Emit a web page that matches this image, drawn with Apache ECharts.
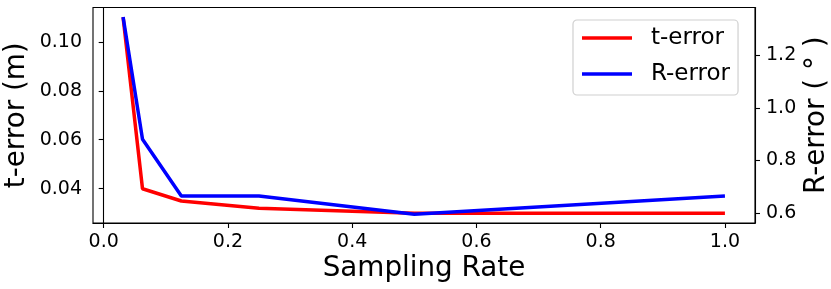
<!DOCTYPE html>
<html>
<head>
<meta charset="utf-8">
<script src="https://cdn.jsdelivr.net/npm/echarts@6/dist/echarts.min.js"></script>
<style>
html,body{margin:0;padding:0;background:#fff;}
#chart{width:831px;height:289px;}
</style>
</head>
<body>
<div id="chart"></div>
<script>
const samplingRates = [0.03125, 0.0625, 0.125, 0.25, 0.5, 1.0];
const tError = [0.110, 0.040, 0.035, 0.032, 0.030, 0.030];
const rError = [1.345, 0.88, 0.665, 0.665, 0.595, 0.665];
const xTicks = [0.0, 0.2, 0.4, 0.6, 0.8, 1.0];
const tTicks = [0.04, 0.06, 0.08, 0.10];
const rTicks = [0.6, 0.8, 1.0, 1.2];

const FONT = 'DejaVu Sans';
const chart = echarts.init(document.getElementById('chart'), null, {renderer: 'canvas'});

const axisLineStyle = {show: true, lineStyle: {color: '#000', width: 1.1}};
const tickStyle = {show: true, inside: false, length: 5, lineStyle: {color: '#000', width: 1.1}};
const labelStyle = {color: '#000', fontFamily: FONT, fontSize: 19};

chart.setOption({
  animation: false,
  backgroundColor: '#fff',
  grid: {left: 93, right: 76, top: 7.5, bottom: 66, show: true, borderColor: '#000', borderWidth: 1.1,
         containLabel: false, outerBoundsMode: 'none'},
  legend: {
    orient: 'vertical',
    left: 573, top: 20,
    padding: [5, 8, 8, 9],
    itemGap: 10,
    itemWidth: 50, itemHeight: 3.5,
    icon: 'rect',
    backgroundColor: 'rgba(255,255,255,0.8)',
    borderColor: '#d0d0d0', borderWidth: 1.2, borderRadius: 4,
    textStyle: {fontFamily: FONT, fontSize: 23, color: '#000', lineHeight: 26, padding: [0, 0, 0, 14]},
    data: ['t-error', 'R-error']
  },
  xAxis: {
    type: 'value', min: -0.0172, max: 1.0484,
    name: 'Sampling Rate', nameLocation: 'middle', nameGap: 32, nameMoveOverlap: false,
    nameTextStyle: {fontFamily: FONT, fontSize: 27.8, color: '#000'},
    axisLine: axisLineStyle,
    axisTick: Object.assign({customValues: xTicks}, tickStyle),
    axisLabel: Object.assign({customValues: xTicks, margin: 10, formatter: v => v.toFixed(1)}, labelStyle),
    splitLine: {show: false}
  },
  yAxis: [
    {
      type: 'value', position: 'left', min: 0.026, max: 0.114,
      name: 't-error (m)', nameLocation: 'middle', nameGap: 62, nameMoveOverlap: false,
      nameTextStyle: {fontFamily: FONT, fontSize: 27.8, color: '#000'},
      axisLine: axisLineStyle,
      axisTick: Object.assign({customValues: tTicks}, tickStyle),
      axisLabel: Object.assign({customValues: tTicks, margin: 11, formatter: v => v.toFixed(2)}, labelStyle),
      splitLine: {show: false}
    },
    {
      type: 'value', position: 'right', min: 0.562, max: 1.381,
      name: 'R-error ( ° )', nameLocation: 'middle', nameGap: 48, nameMoveOverlap: false,
      nameTextStyle: {fontFamily: FONT, fontSize: 27.8, color: '#000'},
      axisLine: axisLineStyle,
      axisTick: Object.assign({customValues: rTicks}, tickStyle),
      axisLabel: Object.assign({customValues: rTicks, margin: 11, formatter: v => v.toFixed(1)}, labelStyle),
      splitLine: {show: false}
    }
  ],
  series: [
    {
      name: 't-error', type: 'line', yAxisIndex: 0,
      data: samplingRates.map((x, i) => [x, tError[i]]),
      showSymbol: false, symbol: 'none',
      lineStyle: {color: '#ff0000', width: 3.5},
      itemStyle: {color: '#ff0000'},
      z: 2
    },
    {
      name: 'R-error', type: 'line', yAxisIndex: 1,
      data: samplingRates.map((x, i) => [x, rError[i]]),
      showSymbol: false, symbol: 'none',
      lineStyle: {color: '#0000ff', width: 3.5},
      itemStyle: {color: '#0000ff'},
      z: 3
    }
  ]
});
</script>
</body>
</html>
